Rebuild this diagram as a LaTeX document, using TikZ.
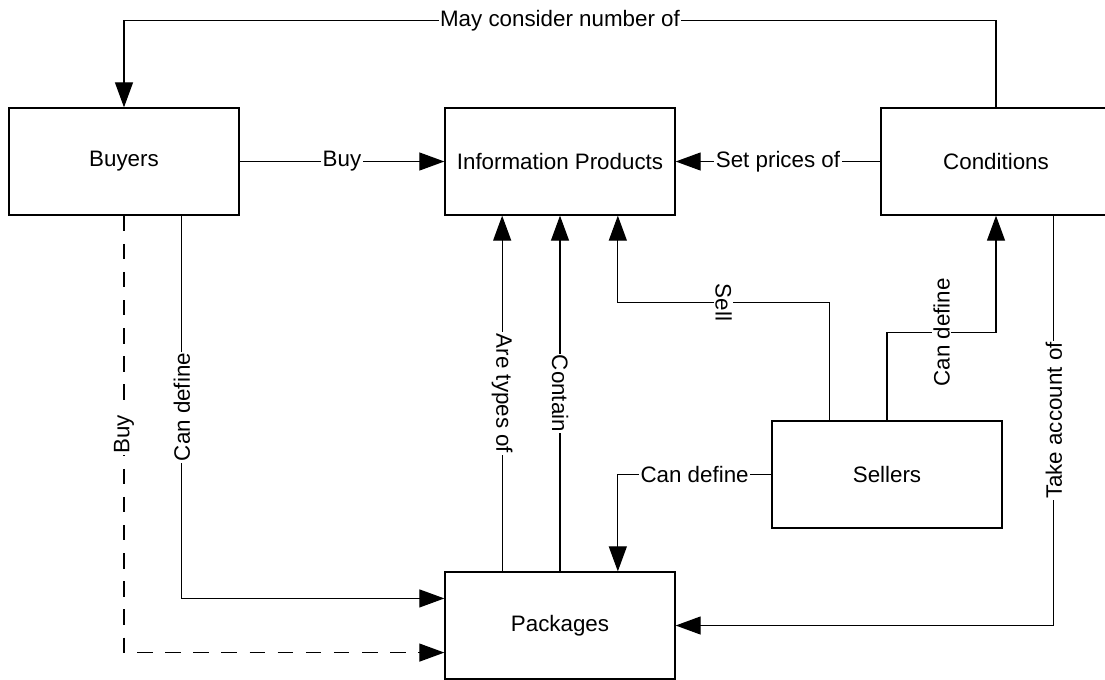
\documentclass[tikz,border=0pt]{standalone}
\usepackage{fontspec}
\setmainfont{Liberation Sans}
\usetikzlibrary{arrows.meta,calc}

\begin{document}
\begin{tikzpicture}[x=0.025cm, y=-0.025cm,
        every node/.style={font=\fontsize{15.9}{19}\selectfont},
        entity/.style={draw, line width=0.9pt, minimum width=5.75cm, minimum height=2.675cm, inner sep=0pt},
        rel/.style={line width=0.9pt, -{Triangle[length=17.8pt,width=12.8pt]}},
        lbl/.style={fill=white, inner sep=1pt}]
        \useasboundingbox (0,0) rectangle (1105,679);

        % boxes
        \node[entity] (buyers) at (124,161.5) {Buyers};
        \node[entity] (info) at (560,161.5) {Information Products};
        \node[entity] (cond) at (996,161.5) {Conditions};
        \node[entity] (sellers) at (887,474.5) {Sellers};
        \node[entity] (pack) at (560,625.5) {Packages};

        % attach points
        \coordinate (buyers-s3) at ($(buyers.south west)!0.75!(buyers.south east)$);
        \coordinate (info-s1) at ($(info.south west)!0.25!(info.south east)$);
        \coordinate (info-s3) at ($(info.south west)!0.75!(info.south east)$);
        \coordinate (cond-s3) at ($(cond.south west)!0.75!(cond.south east)$);
        \coordinate (sellers-n1) at ($(sellers.north west)!0.25!(sellers.north east)$);
        \coordinate (pack-n1) at ($(pack.north west)!0.25!(pack.north east)$);
        \coordinate (pack-n3) at ($(pack.north west)!0.75!(pack.north east)$);
        \coordinate (pack-w1) at ($(pack.north west)!0.25!(pack.south west)$);
        \coordinate (pack-w3) at ($(pack.north west)!0.75!(pack.south west)$);

        % relations
        \draw[rel] (cond.north) -- ++(0,-87) -| node[lbl, pos=0.25] {May consider number of} (buyers.north);
        \draw[rel] (buyers) -- node[lbl] {Buy} (info);
        \draw[rel] (cond) -- node[lbl] {Set prices of} (info);
        \draw[rel] (sellers-n1) -- ++(0,-118) -| node[lbl, pos=0.25, rotate=-90] {Sell} (info-s3);
        \draw[rel] (sellers.north) -- ++(0,-88) -| node[lbl, pos=0.25, rotate=90] {Can define} (cond.south);
        \draw[rel] (sellers.west) -| node[lbl, pos=0.25] {Can define} (pack-n3);
        \draw[rel] (pack-n1) -- node[lbl, rotate=-90] {Are types of} (info-s1);
        \draw[rel] (pack.north) -- node[lbl, rotate=-90] {Contain} (info.south);
        \draw[rel] (cond-s3) |- node[lbl, pos=0.25, rotate=90] {Take account of} (pack.east);
        \draw[rel] (buyers-s3) |- node[lbl, pos=0.25, rotate=90] {Can define} (pack-w1);
        \draw[rel, dash pattern=on 11pt off 9pt] (buyers.south) |- node[lbl, pos=0.25, rotate=90] {Buy} (pack-w3);
    \end{tikzpicture}
\end{document}
